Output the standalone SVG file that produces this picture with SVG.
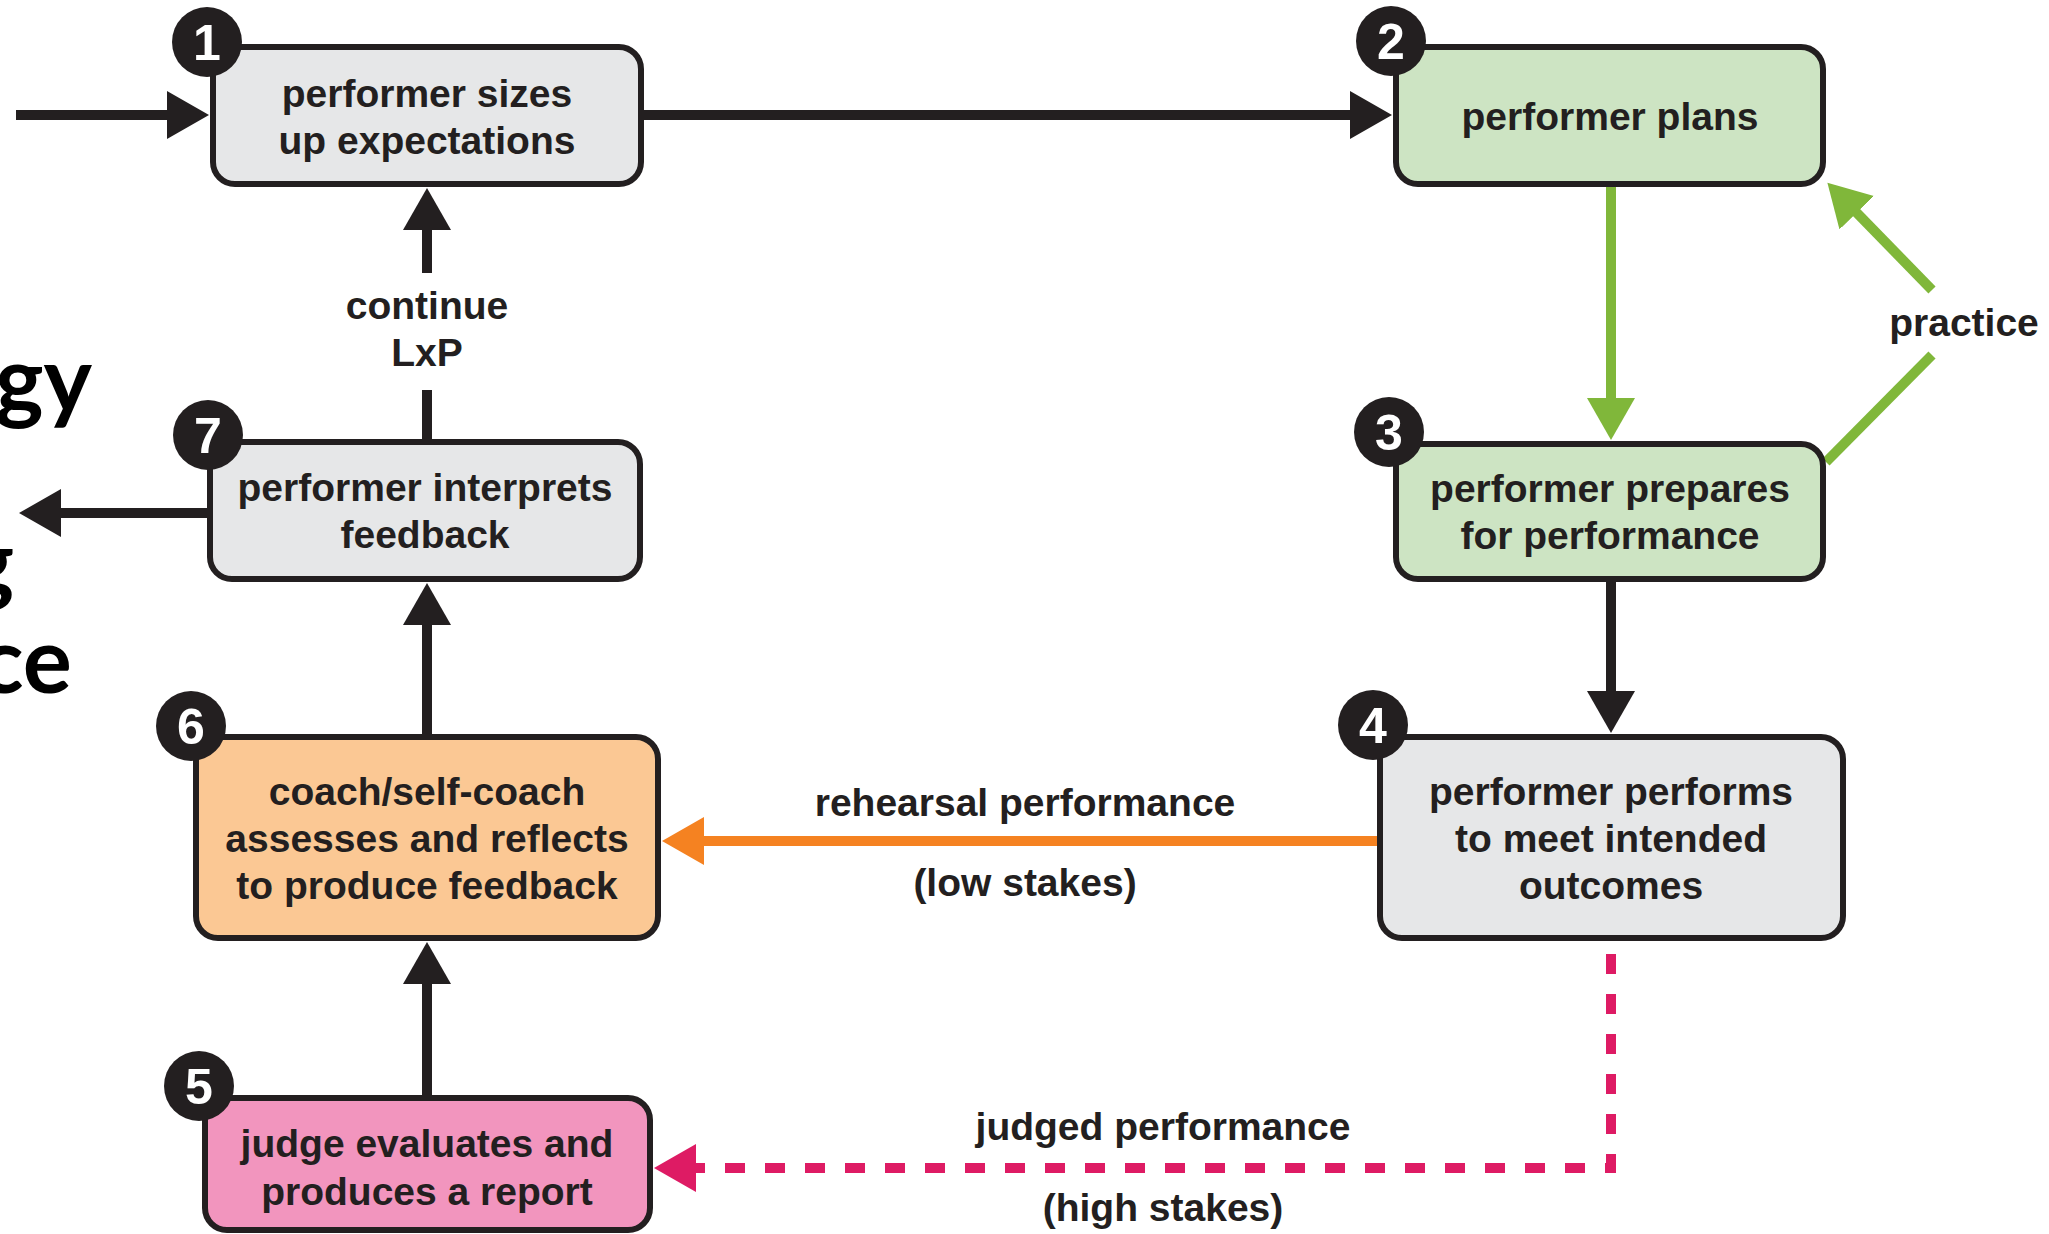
<svg xmlns="http://www.w3.org/2000/svg" width="2049" height="1234" viewBox="0 0 2049 1234">
  <style>
    .box { stroke: #231f20; stroke-width: 6; }
    .gray { fill: #e6e7e8; }
    .green { fill: #cde4c3; }
    .orange { fill: #fbc894; }
    .pink { fill: #f295be; }
    .lbl { font-family: "Liberation Sans", Arial, sans-serif; font-weight: bold; font-size: 39px; fill: #231f20; text-anchor: middle; }
    .num { font-family: "Liberation Sans", Arial, sans-serif; font-weight: bold; font-size: 50px; fill: #ffffff; text-anchor: middle; }
    .badge { fill: #231f20; }
    .bg { font-family: Lato, "Noto Sans", sans-serif; font-weight: bold; font-size: 92px; fill: #000000; text-anchor: end; }
    .c { fill: none; stroke-width: 10; }
    .dark { stroke: #231f20; }
    .grn { stroke: #80b73a; }
    .org { stroke: #f58221; }
    .pnk { stroke: #de1b64; stroke-dasharray: 20 20; }
  </style>
  <defs>
    <marker id="ah-dark" markerUnits="userSpaceOnUse" markerWidth="44" markerHeight="50" viewBox="0 -25 44 50" refX="1" refY="0" orient="auto">
      <path d="M0,-24 L42,0 L0,24 Z" fill="#231f20"/>
    </marker>
    <marker id="ah-green" markerUnits="userSpaceOnUse" markerWidth="44" markerHeight="50" viewBox="0 -25 44 50" refX="1" refY="0" orient="auto">
      <path d="M0,-24 L42,0 L0,24 Z" fill="#80b73a"/>
    </marker>
    <marker id="ah-orange" markerUnits="userSpaceOnUse" markerWidth="44" markerHeight="50" viewBox="0 -25 44 50" refX="1" refY="0" orient="auto">
      <path d="M0,-24 L42,0 L0,24 Z" fill="#f58221"/>
    </marker>
    <marker id="ah-pink" markerUnits="userSpaceOnUse" markerWidth="44" markerHeight="50" viewBox="0 -25 44 50" refX="1" refY="0" orient="auto">
      <path d="M0,-24 L42,0 L0,24 Z" fill="#de1b64"/>
    </marker>
  </defs>

  <rect x="0" y="0" width="2049" height="1234" fill="#ffffff"/>

  <g id="background-fragments">
    <text class="bg" x="92" y="412">gy</text>
    <text class="bg" x="14" y="594">g</text>
    <text class="bg" x="72" y="693">ce</text>
  </g>

  <g id="connectors">
    <path class="c dark" d="M16,115 H168" marker-end="url(#ah-dark)"/>
    <path class="c dark" d="M644,115 H1351" marker-end="url(#ah-dark)"/>
    <path class="c grn" d="M1611,187 V399" marker-end="url(#ah-green)"/>
    <path class="c grn" d="M1826,462 L1932,355"/>
    <path class="c grn" d="M1932,290 L1856,212" marker-end="url(#ah-green)"/>
    <path class="c dark" d="M1611,582 V692" marker-end="url(#ah-dark)"/>
    <path class="c org" d="M1377,841 H703" marker-end="url(#ah-orange)"/>
    <path class="c dark" d="M427,734 V624" marker-end="url(#ah-dark)"/>
    <path class="c dark" d="M207,513 H60" marker-end="url(#ah-dark)"/>
    <path class="c dark" d="M427,439 V390"/>
    <path class="c dark" d="M427,273 V229" marker-end="url(#ah-dark)"/>
    <path class="c dark" d="M427,1095 V983" marker-end="url(#ah-dark)"/>
    <path class="c pnk" d="M1611,954 V1168 H695" marker-end="url(#ah-pink)"/>
    <text class="lbl" x="427" y="319">continue</text>
    <text class="lbl" x="427" y="366">LxP</text>
    <text class="lbl" x="1964" y="336">practice</text>
    <text class="lbl" x="1025" y="816">rehearsal performance</text>
    <text class="lbl" x="1025" y="896">(low stakes)</text>
    <text class="lbl" x="1163" y="1140">judged performance</text>
    <text class="lbl" x="1163" y="1221">(high stakes)</text>
  </g>

  <g id="node1">
    <rect class="box gray" x="213" y="47" width="428" height="137" rx="22"/>
    <circle class="badge" cx="207" cy="42" r="35"/>
    <text class="num" x="207" y="60">1</text>
    <text class="lbl" x="427" y="107">performer sizes</text>
    <text class="lbl" x="427" y="154">up expectations</text>
  </g>

  <g id="node2">
    <rect class="box green" x="1396" y="47" width="427" height="137" rx="22"/>
    <circle class="badge" cx="1391" cy="41" r="35"/>
    <text class="num" x="1391" y="59">2</text>
    <text class="lbl" x="1610" y="130">performer plans</text>
  </g>

  <g id="node3">
    <rect class="box green" x="1396" y="444" width="427" height="135" rx="22"/>
    <circle class="badge" cx="1389" cy="432" r="35"/>
    <text class="num" x="1389" y="450">3</text>
    <text class="lbl" x="1610" y="502">performer prepares</text>
    <text class="lbl" x="1610" y="549">for performance</text>
  </g>

  <g id="node4">
    <rect class="box gray" x="1380" y="737" width="463" height="201" rx="22"/>
    <circle class="badge" cx="1373" cy="725" r="35"/>
    <text class="num" x="1373" y="743">4</text>
    <text class="lbl" x="1611" y="805">performer performs</text>
    <text class="lbl" x="1611" y="852">to meet intended</text>
    <text class="lbl" x="1611" y="899">outcomes</text>
  </g>

  <g id="node5">
    <rect class="box pink" x="205" y="1098" width="445" height="132" rx="22"/>
    <circle class="badge" cx="199" cy="1086" r="35"/>
    <text class="num" x="199" y="1104">5</text>
    <text class="lbl" x="427" y="1157">judge evaluates and</text>
    <text class="lbl" x="427" y="1205">produces a report</text>
  </g>

  <g id="node6">
    <rect class="box orange" x="196" y="737" width="462" height="201" rx="22"/>
    <circle class="badge" cx="191" cy="726" r="35"/>
    <text class="num" x="191" y="744">6</text>
    <text class="lbl" x="427" y="805">coach/self-coach</text>
    <text class="lbl" x="427" y="852">assesses and reflects</text>
    <text class="lbl" x="427" y="899">to produce feedback</text>
  </g>

  <g id="node7">
    <rect class="box gray" x="210" y="442" width="430" height="137" rx="22"/>
    <circle class="badge" cx="208" cy="435" r="35"/>
    <text class="num" x="208" y="453">7</text>
    <text class="lbl" x="425" y="501">performer interprets</text>
    <text class="lbl" x="425" y="548">feedback</text>
  </g>
</svg>
